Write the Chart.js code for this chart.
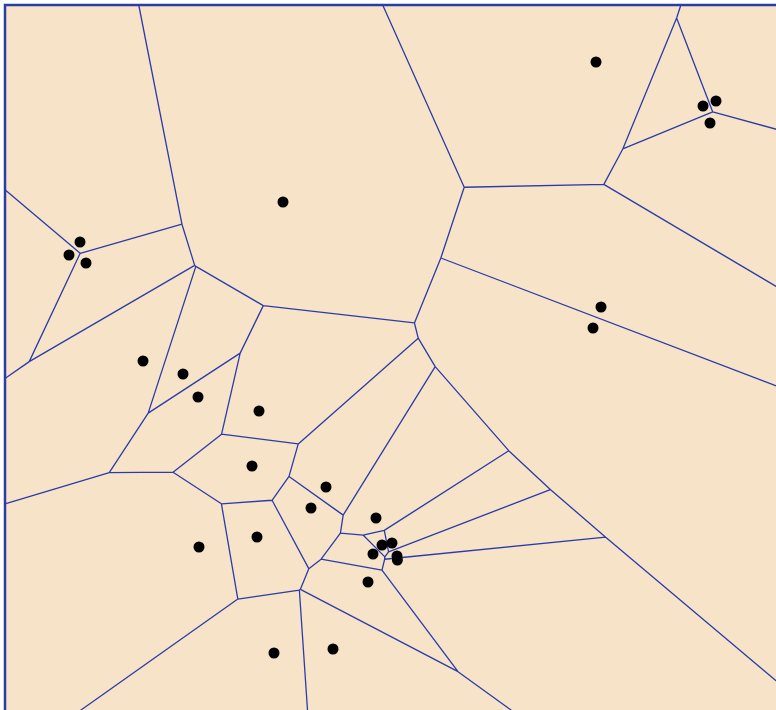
<!DOCTYPE html>
<html>
<head>
<meta charset="utf-8">
<script src="https://cdn.jsdelivr.net/npm/chart.js@4"></script>
<style>
  html, body { margin: 0; padding: 0; background: #fff; overflow: hidden; }
  #wrap { position: absolute; left: 0; top: 0; width: 800px; height: 740px; }
</style>
</head>
<body>
<div id="wrap"><canvas id="voronoi" width="800" height="740"></canvas></div>
<script>
// Sites (x to the right, y downwards)
const siteX = [596, 703, 716, 710, 283, 80, 69, 86, 601, 593, 143, 183, 198, 259, 252,
  326, 311, 376, 257, 199, 382, 392, 373, 397, 397.4, 368, 333, 274]
const siteY = [62, 106, 101, 123, 202, 242, 255, 263, 307, 328, 361, 374, 397, 411, 466,
  487, 508, 518, 537, 547, 545, 543, 554, 556, 560, 582, 649, 653]

// Extent of the diagram (only the left and top sides are in view)
const boxX = [5, 790]
const boxY = [5, 725]

const sites = siteX.map((x, i) => ({ x: x, y: siteY[i] }))

// Clip a cell (vertices + label of the edge leaving each vertex) by the bisector of sites i and j
const clipCell = (cell, si, sj, j) => {
  let mx = (si.x + sj.x) / 2, my = (si.y + sj.y) / 2
  let dx = sj.x - si.x, dy = sj.y - si.y
  const f = p => (p.x - mx) * dx + (p.y - my) * dy
  let out = []
  for (let k = 0; k < cell.length; k++) {
    let P = cell[k], Q = cell[(k + 1) % cell.length]
    let fp = f(P), fq = f(Q)
    if (fp <= 0) out.push({ x: P.x, y: P.y, label: P.label })
    if ((fp <= 0) != (fq <= 0)) {
      let t = fp / (fp - fq)
      let I = { x: P.x + t * (Q.x - P.x), y: P.y + t * (Q.y - P.y) }
      I.label = fp <= 0 ? j : P.label
      out.push(I)
    }
  }
  return out
}

// Build every cell, then keep each shared edge once
let edgeData = []
sites.forEach((s, i) => {
  let cell = [
    { x: boxX[0], y: boxY[0], label: -1 },
    { x: boxX[1], y: boxY[0], label: -1 },
    { x: boxX[1], y: boxY[1], label: -1 },
    { x: boxX[0], y: boxY[1], label: -1 }
  ]
  sites.forEach((o, j) => {
    if (j != i && cell.length) cell = clipCell(cell, s, o, j)
  })
  cell.forEach((v, k) => {
    if (v.label > i) {
      let w = cell[(k + 1) % cell.length]
      edgeData.push({ x: v.x, y: v.y }, { x: w.x, y: w.y }, { x: null, y: null })
    }
  })
})

const frameData = [
  { x: boxX[0], y: boxY[1] }, { x: boxX[0], y: boxY[0] },
  { x: boxX[1], y: boxY[0] }, { x: boxX[1], y: boxY[1] }, { x: boxX[0], y: boxY[1] }
]

// paint the diagram background inside the frame
const backgroundPlugin = {
  id: 'cellBackground',
  beforeDatasetsDraw(chart) {
    let c = chart.ctx, xs = chart.scales.x, ys = chart.scales.y
    let x0 = xs.getPixelForValue(boxX[0]), x1 = xs.getPixelForValue(boxX[1])
    let y0 = ys.getPixelForValue(boxY[0]), y1 = ys.getPixelForValue(boxY[1])
    c.save()
    c.fillStyle = '#f6e3c8'
    c.fillRect(x0, y0, x1 - x0, y1 - y0)
    c.restore()
  }
}

new Chart(document.getElementById('voronoi'), {
  type: 'scatter',
  data: {
    datasets: [
      {
        label: 'sites',
        data: sites,
        pointRadius: 5.5,
        pointStyle: 'circle',
        backgroundColor: '#000',
        borderWidth: 0,
        showLine: false,
        order: 0
      },
      {
        label: 'edges',
        data: edgeData,
        showLine: true,
        spanGaps: false,
        borderColor: '#2b3ca8',
        borderWidth: 1.3,
        pointRadius: 0,
        order: 1
      },
      {
        label: 'frame',
        data: frameData,
        showLine: true,
        borderColor: '#2b3ca8',
        borderWidth: 2.5,
        pointRadius: 0,
        order: 2
      }
    ]
  },
  options: {
    responsive: false,
    animation: false,
    devicePixelRatio: 1,
    layout: { padding: 0, autoPadding: false },
    plugins: { legend: { display: false }, tooltip: { enabled: false } },
    scales: {
      x: { type: 'linear', min: 0, max: 800, display: false },
      y: { type: 'linear', min: 0, max: 740, reverse: true, display: false }
    }
  },
  plugins: [backgroundPlugin]
})
</script>
</body>
</html>
